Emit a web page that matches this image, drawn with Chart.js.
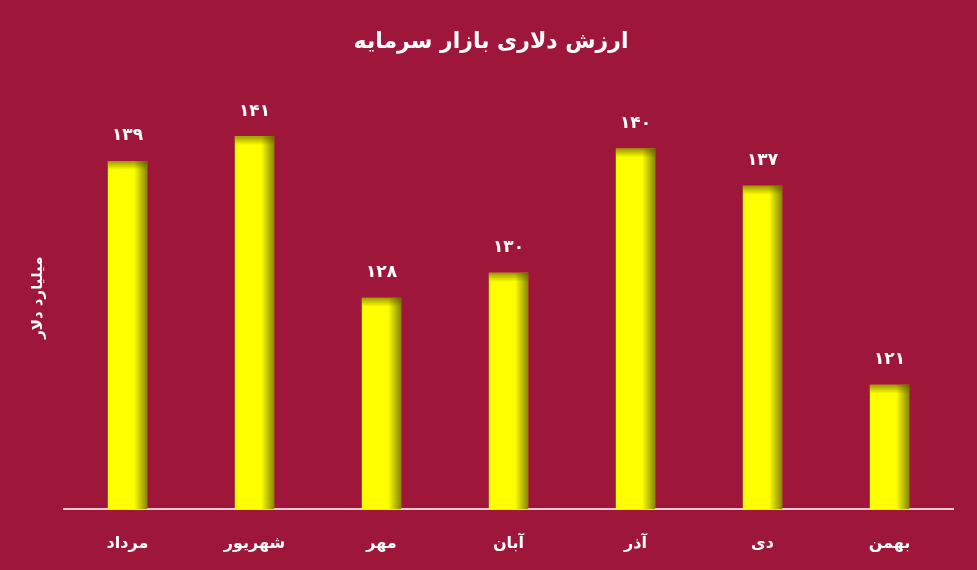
<!DOCTYPE html>
<html>
<head>
  <meta charset="utf-8">
  <title>ارزش دلاری بازار سرمایه</title>
  <style>
    html, body { margin: 0; padding: 0; background: #9e173b; }
    #wrap { width: 977px; height: 570px; }
  </style>
</head>
<body>
  <div id="wrap">
    <canvas id="chart" width="977" height="570"></canvas>
  </div>

  <script src="https://cdn.jsdelivr.net/npm/chart.js@4/dist/chart.umd.min.js"></script>
  <script>
    // months (Persian calendar) and market value in billion dollars
    const months = ["مرداد", "شهریور", "مهر", "آبان", "آذر", "دی", "بهمن"];
    const values = [139, 141, 128, 130, 140, 137, 121];
    const valueLabels = ["۱۳۹", "۱۴۱", "۱۲۸", "۱۳۰", "۱۴۰", "۱۳۷", "۱۲۱"];

    const bg = "#9e173b";
    const fontName = "'DejaVu Sans', 'Noto Sans', sans-serif";

    // paint the background and shade the bars, then write values on top
    const barDecor = {
      id: "barDecor",
      beforeDraw(chart) {
        const ctx = chart.ctx;
        ctx.save();
        ctx.fillStyle = bg;
        ctx.fillRect(0, 0, chart.width, chart.height);
        ctx.restore();
      },
      afterDatasetsDraw(chart) {
        const ctx = chart.ctx;
        const meta = chart.getDatasetMeta(0);
        const area = chart.chartArea;
        ctx.save();
        meta.data.forEach(function (bar, i) {
          const left = bar.x - bar.width / 2;
          const right = bar.x + bar.width / 2;
          const top = bar.y;
          const bottom = Math.min(bar.base, area.bottom);

          // darker right edge
          let g = ctx.createLinearGradient(right - 13, 0, right, 0);
          g.addColorStop(0, "rgba(70,70,0,0)");
          g.addColorStop(1, "rgba(70,70,0,0.65)");
          ctx.fillStyle = g;
          ctx.fillRect(right - 13, top, 13, bottom - top);

          // darker top edge
          g = ctx.createLinearGradient(0, top, 0, top + 9);
          g.addColorStop(0, "rgba(70,70,0,0.55)");
          g.addColorStop(1, "rgba(70,70,0,0)");
          ctx.fillStyle = g;
          ctx.fillRect(left, top, right - left, 9);

          // value label
          ctx.fillStyle = "#ffffff";
          ctx.font = "bold 17px " + fontName;
          ctx.textAlign = "center";
          ctx.textBaseline = "middle";
          ctx.fillText(valueLabels[i], bar.x, top - 25);
        });
        ctx.restore();
      }
    };

    new Chart("chart", {
      type: "bar",
      data: {
        labels: months,
        datasets: [{
          data: values,
          backgroundColor: "#ffff00",
          borderWidth: 0,
          barPercentage: 0.31,
          categoryPercentage: 1.0
        }]
      },
      options: {
        responsive: false,
        animation: false,
        layout: {
          padding: {left: 29, right: 24, top: 20, bottom: 0}
        },
        plugins: {
          legend: {display: false},
          tooltip: {enabled: false},
          title: {
            display: true,
            text: "ارزش دلاری بازار سرمایه",
            color: "#ffffff",
            font: {family: fontName, size: 22, weight: "bold"},
            padding: {top: 9, bottom: 31}
          }
        },
        scales: {
          x: {
            grid: {display: false},
            border: {display: true, color: "#e8c9d1", width: 2},
            ticks: {
              color: "#ffffff",
              font: {family: fontName, size: 16, weight: "bold"},
              padding: 17
            },
            afterFit(scale) { scale.height = 61; }
          },
          y: {
            min: 111,
            max: 145,
            grid: {display: false},
            border: {display: false},
            ticks: {display: false},
            title: {
              display: true,
              text: "میلیارد دلار",
              color: "#ffffff",
              font: {family: fontName, size: 15, weight: "bold"},
              padding: 0
            },
            afterFit(scale) { scale.width = 35; }
          }
        }
      },
      plugins: [barDecor]
    });
  </script>
</body>
</html>
